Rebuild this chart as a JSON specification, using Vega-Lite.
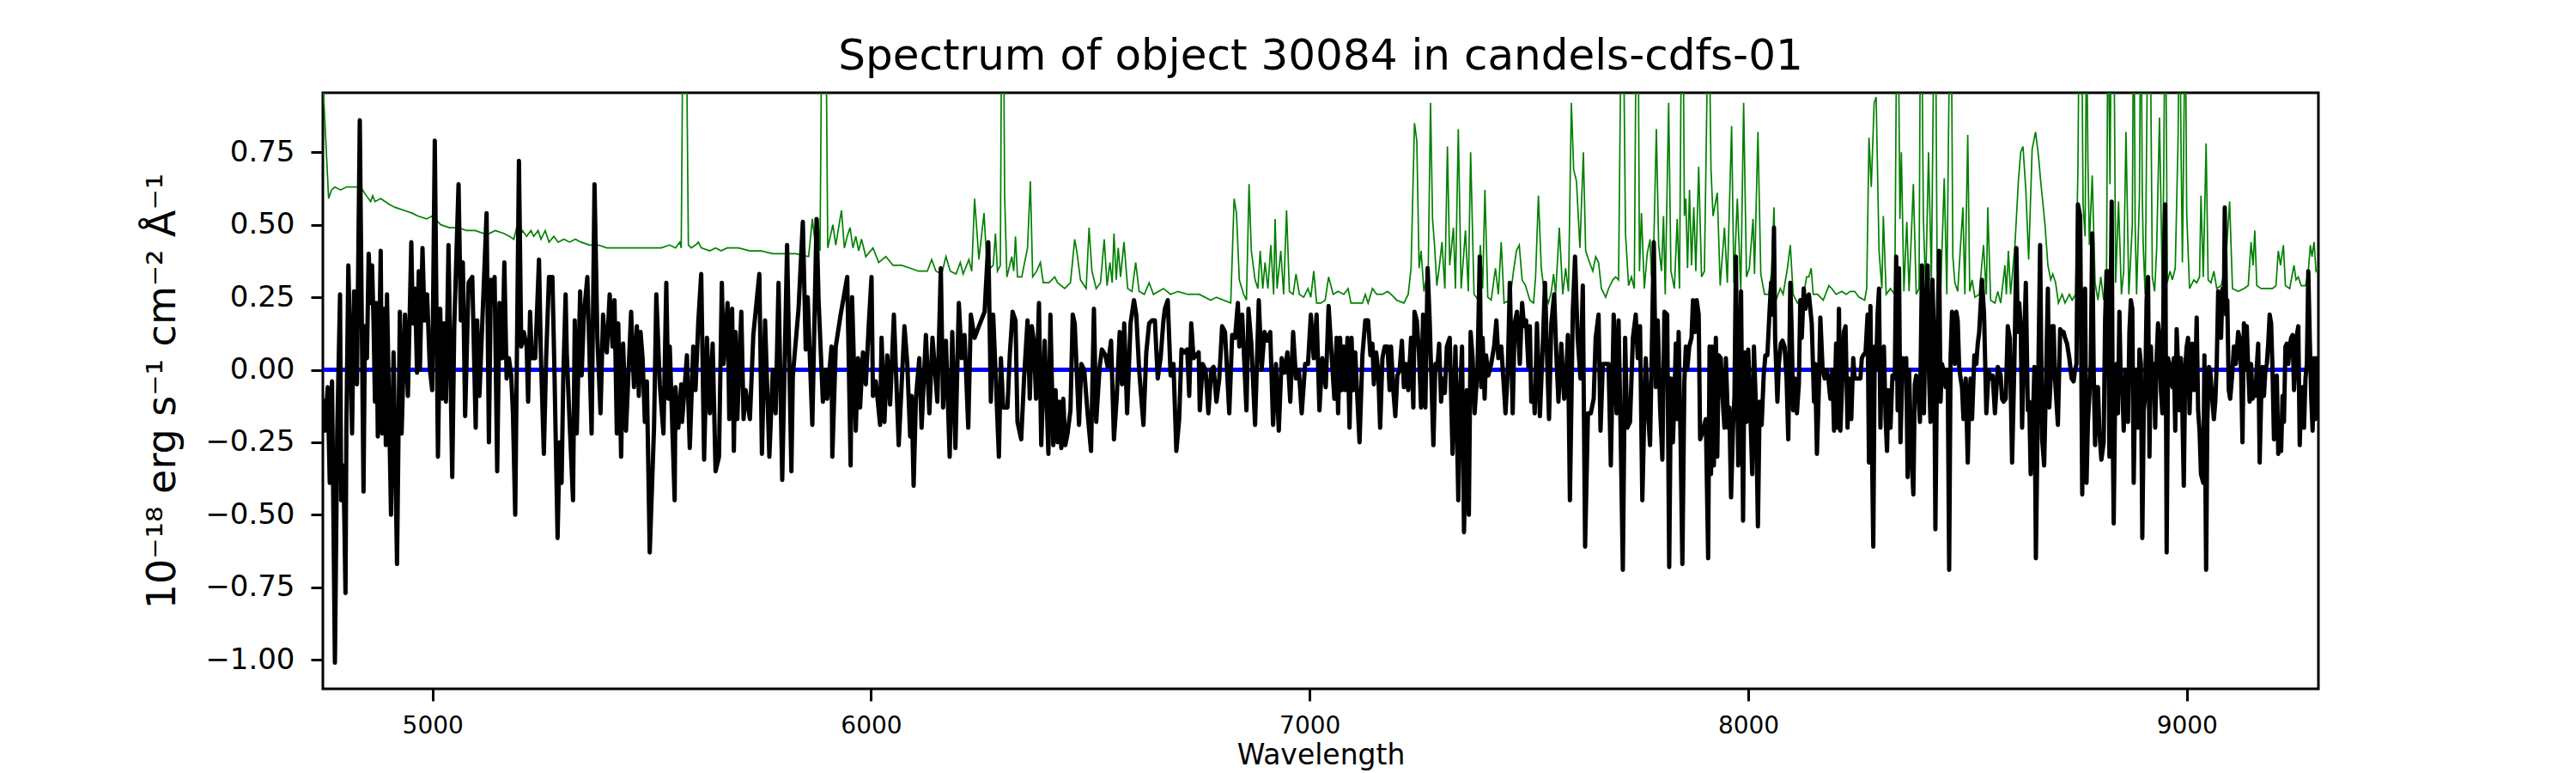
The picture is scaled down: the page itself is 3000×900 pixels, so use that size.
{
  "$schema": "https://vega.github.io/schema/vega-lite/v6.json",
  "width": 2324,
  "height": 694,
  "autosize": {"type": "none"},
  "padding": {"left": 376, "top": 108, "right": 300, "bottom": 98},
  "background": "white",
  "title": {
    "text": "Spectrum of object 30084 in candels-cdfs-01",
    "font": "DejaVu Sans",
    "fontSize": 50,
    "fontWeight": "normal",
    "color": "black",
    "anchor": "middle",
    "frame": "group",
    "baseline": "alphabetic",
    "offset": -23
  },
  "config": {
    "font": "DejaVu Sans",
    "view": {"stroke": "black", "strokeWidth": 3},
    "axis": {
      "labelFont": "DejaVu Sans",
      "titleFont": "DejaVu Sans",
      "labelColor": "black",
      "titleColor": "black",
      "tickColor": "black",
      "tickWidth": 3,
      "tickSize": 14,
      "domain": false,
      "grid": false,
      "titleFontWeight": "normal",
      "labelFlush": false
    }
  },
  "datasets": {
    "err": [
      {"w":4750.0,"v":1.00},{"w":4763.1,"v":0.59},{"w":4769.6,"v":0.62},{"w":4777.5,"v":0.63},{"w":4790.5,"v":0.62},{"w":4803.6,"v":0.63},{"w":4819.9,"v":0.63},{"w":4836.2,"v":0.63},{"w":4849.2,"v":0.60},{"w":4859.0,"v":0.58},{"w":4863.6,"v":0.60},{"w":4868.8,"v":0.58},{"w":4881.9,"v":0.59},{"w":4901.5,"v":0.57},{"w":4914.5,"v":0.56},{"w":4934.1,"v":0.55},{"w":4953.7,"v":0.54},{"w":4966.7,"v":0.53},{"w":4986.3,"v":0.52},{"w":4999.3,"v":0.53},{"w":5018.9,"v":0.50},{"w":5038.5,"v":0.49},{"w":5058.1,"v":0.49},{"w":5077.7,"v":0.48},{"w":5097.2,"v":0.48},{"w":5116.8,"v":0.47},{"w":5129.9,"v":0.47},{"w":5142.9,"v":0.48},{"w":5162.5,"v":0.47},{"w":5175.5,"v":0.46},{"w":5185.3,"v":0.45},{"w":5191.9,"v":0.49},{"w":5198.4,"v":0.46},{"w":5204.9,"v":0.48},{"w":5214.7,"v":0.46},{"w":5224.5,"v":0.48},{"w":5231.0,"v":0.46},{"w":5240.8,"v":0.48},{"w":5247.3,"v":0.45},{"w":5257.1,"v":0.48},{"w":5265.6,"v":0.44},{"w":5276.7,"v":0.46},{"w":5286.5,"v":0.44},{"w":5299.5,"v":0.45},{"w":5312.6,"v":0.44},{"w":5325.6,"v":0.45},{"w":5338.7,"v":0.44},{"w":5358.3,"v":0.43},{"w":5377.8,"v":0.43},{"w":5397.4,"v":0.42},{"w":5423.5,"v":0.42},{"w":5456.2,"v":0.42},{"w":5475.7,"v":0.42},{"w":5495.3,"v":0.42},
      {"w":5521.4,"v":0.42},{"w":5541.0,"v":0.43},{"w":5554.0,"v":0.42},{"w":5563.8,"v":0.44},{"w":5567.1,"v":0.42},{"w":5571.0,"v":1.2},{"w":5574.9,"v":1.5},{"w":5578.8,"v":1.2},{"w":5583.4,"v":0.43},{"w":5589.9,"v":0.42},{"w":5599.7,"v":0.43},{"w":5606.2,"v":0.44},{"w":5612.7,"v":0.42},{"w":5632.3,"v":0.41},{"w":5645.4,"v":0.42},{"w":5658.4,"v":0.41},{"w":5671.5,"v":0.42},{"w":5697.6,"v":0.42},{"w":5723.7,"v":0.41},{"w":5749.8,"v":0.41},{"w":5775.9,"v":0.40},{"w":5802.0,"v":0.40},{"w":5828.1,"v":0.40},{"w":5857.5,"v":0.39},{"w":5866.0,"v":0.52},{"w":5873.8,"v":0.42},{"w":5879.0,"v":0.52},{"w":5883.6,"v":0.41},{"w":5888.1,"v":1.3},{"w":5892.1,"v":1.6},{"w":5896.6,"v":1.3},{"w":5901.2,"v":0.42},{"w":5912.9,"v":0.50},{"w":5919.5,"v":0.43},{"w":5932.5,"v":0.55},{"w":5939.1,"v":0.42},{"w":5945.6,"v":0.46},{"w":5952.1,"v":0.49},{"w":5958.6,"v":0.42},{"w":5965.1,"v":0.46},{"w":5971.7,"v":0.41},{"w":5978.2,"v":0.45},{"w":5988.0,"v":0.39},{"w":6004.3,"v":0.42},{"w":6017.4,"v":0.37},{"w":6033.7,"v":0.39},{"w":6050.0,"v":0.36},{"w":6069.6,"v":0.36},{"w":6089.1,"v":0.35},{"w":6108.7,"v":0.34},{"w":6128.3,"v":0.34},{"w":6138.1,"v":0.38},{"w":6147.9,"v":0.34},{"w":6160.9,"v":0.33},{"w":6170.7,"v":0.39},{"w":6180.5,"v":0.34},{"w":6193.6,"v":0.33},{"w":6203.4,"v":0.37},{"w":6209.9,"v":0.33},{"w":6222.9,"v":0.38},{"w":6229.5,"v":0.34},{"w":6236.0,"v":0.59},{"w":6245.8,"v":0.38},{"w":6257.5,"v":0.54},{"w":6265.3,"v":0.33},
      {"w":6271.8,"v":0.35},{"w":6278.4,"v":0.36},{"w":6283.6,"v":0.47},{"w":6288.1,"v":0.34},{"w":6294.7,"v":0.36},{"w":6297.9,"v":1.3},{"w":6301.2,"v":1.4},{"w":6304.5,"v":0.60},{"w":6309.7,"v":0.32},{"w":6320.8,"v":0.39},{"w":6325.3,"v":0.34},{"w":6329.3,"v":0.46},{"w":6333.8,"v":0.32},{"w":6343.6,"v":0.32},{"w":6348.8,"v":0.36},{"w":6356.7,"v":0.42},{"w":6363.2,"v":0.65},{"w":6368.4,"v":0.32},{"w":6377.5,"v":0.34},{"w":6386.0,"v":0.37},{"w":6392.6,"v":0.30},{"w":6405.6,"v":0.30},{"w":6418.7,"v":0.32},{"w":6425.2,"v":0.30},{"w":6441.5,"v":0.28},{"w":6454.6,"v":0.30},{"w":6464.3,"v":0.45},{"w":6468.9,"v":0.41},{"w":6477.4,"v":0.31},{"w":6490.4,"v":0.28},{"w":6497.0,"v":0.49},{"w":6503.5,"v":0.34},{"w":6513.3,"v":0.28},{"w":6523.1,"v":0.30},{"w":6531.6,"v":0.45},{"w":6538.1,"v":0.29},{"w":6544.6,"v":0.37},{"w":6549.8,"v":0.30},{"w":6553.8,"v":0.47},{"w":6559.0,"v":0.31},{"w":6563.5,"v":0.42},{"w":6568.8,"v":0.32},{"w":6576.6,"v":0.44},{"w":6585.1,"v":0.28},{"w":6594.9,"v":0.27},{"w":6603.3,"v":0.37},{"w":6611.2,"v":0.27},{"w":6622.9,"v":0.26},{"w":6634.0,"v":0.30},{"w":6643.8,"v":0.26},{"w":6666.6,"v":0.28},{"w":6683.0,"v":0.26},{"w":6699.3,"v":0.27},{"w":6722.1,"v":0.26},{"w":6748.2,"v":0.26},{"w":6774.3,"v":0.24},{"w":6787.4,"v":0.25},{"w":6820.0,"v":0.23},{"w":6827.8,"v":0.59},{"w":6833.1,"v":0.54},{"w":6839.6,"v":0.31},{"w":6849.4,"v":0.26},{"w":6855.9,"v":0.24},{"w":6861.8,"v":0.64},{"w":6867.0,"v":0.41},{"w":6875.5,"v":0.31},{"w":6882.0,"v":0.28},{"w":6887.2,"v":0.41},{"w":6893.1,"v":0.28},{"w":6898.3,"v":0.37},{"w":6904.8,"v":0.28},{"w":6911.4,"v":0.43},{"w":6917.9,"v":0.26},{"w":6921.2,"v":0.52},{"w":6925.7,"v":0.28},{"w":6934.2,"v":0.41},{"w":6940.7,"v":0.26},{"w":6947.3,"v":0.55},{"w":6953.8,"v":0.27},{"w":6962.3,"v":0.26},{"w":6968.8,"v":0.33},{"w":6976.6,"v":0.26},{"w":6986.4,"v":0.25},{"w":6996.2,"v":0.28},{"w":7002.7,"v":0.25},{"w":7009.3,"v":0.34},{"w":7015.8,"v":0.23},{"w":7025.6,"v":0.23},{"w":7035.4,"v":0.24},{"w":7043.2,"v":0.32},
      {"w":7053.7,"v":0.26},{"w":7064.8,"v":0.27},{"w":7077.8,"v":0.26},{"w":7087.6,"v":0.28},{"w":7094.2,"v":0.23},{"w":7107.2,"v":0.23},{"w":7120.3,"v":0.23},{"w":7126.8,"v":0.26},{"w":7133.3,"v":0.23},{"w":7143.1,"v":0.28},{"w":7152.9,"v":0.26},{"w":7165.9,"v":0.26},{"w":7177.7,"v":0.27},{"w":7185.5,"v":0.26},{"w":7198.6,"v":0.24},{"w":7214.9,"v":0.23},{"w":7224.7,"v":0.26},{"w":7231.2,"v":0.35},{"w":7239.0,"v":0.85},{"w":7244.3,"v":0.79},{"w":7249.5,"v":0.35},{"w":7254.0,"v":0.41},{"w":7260.6,"v":0.27},{"w":7270.4,"v":0.35},{"w":7275.6,"v":0.92},{"w":7280.2,"v":0.52},{"w":7284.7,"v":0.43},{"w":7290.0,"v":0.29},{"w":7295.2,"v":0.35},{"w":7301.7,"v":0.44},{"w":7308.2,"v":0.28},{"w":7314.1,"v":0.77},{"w":7319.3,"v":0.36},{"w":7327.8,"v":0.49},{"w":7332.4,"v":0.28},{"w":7338.9,"v":0.83},{"w":7345.4,"v":0.28},{"w":7355.2,"v":0.48},{"w":7361.7,"v":0.27},{"w":7367.0,"v":0.75},{"w":7374.8,"v":0.26},{"w":7384.6,"v":0.24},{"w":7389.1,"v":0.43},{"w":7394.4,"v":0.28},{"w":7399.6,"v":0.62},{"w":7406.1,"v":0.25},{"w":7413.9,"v":0.24},{"w":7423.7,"v":0.35},{"w":7430.2,"v":0.26},{"w":7436.8,"v":0.44},{"w":7443.3,"v":0.23},{"w":7456.4,"v":0.24},{"w":7464.8,"v":0.34},{"w":7471.4,"v":0.41},{"w":7477.9,"v":0.43},{"w":7484.4,"v":0.31},{"w":7492.2,"v":0.29},{"w":7502.0,"v":0.24},{"w":7510.5,"v":0.23},{"w":7515.1,"v":0.32},{"w":7521.6,"v":0.60},{"w":7528.1,"v":0.35},{"w":7534.7,"v":0.27},{"w":7544.5,"v":0.23},{"w":7551.0,"v":0.27},{"w":7556.2,"v":0.33},{"w":7560.8,"v":0.26},{"w":7569.2,"v":0.49},{"w":7577.1,"v":0.26},{"w":7583.6,"v":0.35},{"w":7590.1,"v":0.27},{"w":7596.7,"v":0.92},{"w":7601.9,"v":0.69},{"w":7608.4,"v":0.65},{"w":7616.2,"v":0.42},{"w":7624.1,"v":0.75},{"w":7629.3,"v":0.41},{"w":7635.8,"v":0.38},{"w":7645.6,"v":0.34},{"w":7652.1,"v":0.39},{"w":7658.7,"v":0.37},{"w":7665.2,"v":0.28},{"w":7675.0,"v":0.25},{"w":7681.5,"v":0.28},{"w":7691.3,"v":0.31},{"w":7697.8,"v":0.32},{"w":7704.3,"v":0.31},{"w":7710.2,"v":1.2},{"w":7712.9,"v":1.6},{"w":7715.4,"v":1.2},{"w":7720.1,"v":0.47},{"w":7727.2,"v":0.29},{"w":7733.7,"v":0.32},{"w":7740.2,"v":0.28},{"w":7744.8,"v":1.3},{"w":7746.8,"v":1.5},{"w":7749.4,"v":1.1},{"w":7752.0,"v":0.34},{"w":7756.5,"v":0.54},{"w":7763.1,"v":0.28},{"w":7769.6,"v":0.40},{"w":7776.1,"v":0.45},{"w":7779.4,"v":0.32},{"w":7784.6,"v":0.43},{"w":7790.5,"v":0.83},{"w":7795.7,"v":0.43},{"w":7802.2,"v":0.34},{"w":7806.8,"v":0.53},
      {"w":7810.7,"v":0.26},{"w":7818.5,"v":0.92},{"w":7823.7,"v":0.34},{"w":7831.6,"v":0.28},{"w":7838.1,"v":0.52},{"w":7843.3,"v":0.28},{"w":7847.2,"v":1.1},{"w":7849.8,"v":1.4},{"w":7852.4,"v":1.0},{"w":7854.4,"v":0.53},{"w":7857.7,"v":0.59},{"w":7861.6,"v":0.35},{"w":7866.1,"v":0.62},{"w":7870.7,"v":0.36},{"w":7875.9,"v":0.56},{"w":7880.5,"v":0.34},{"w":7887.0,"v":0.70},{"w":7893.6,"v":0.32},{"w":7900.1,"v":0.34},{"w":7907.3,"v":1.1},{"w":7909.9,"v":1.4},{"w":7912.5,"v":1.0},{"w":7915.1,"v":0.69},{"w":7919.7,"v":0.53},{"w":7929.4,"v":0.61},{"w":7936.0,"v":0.29},{"w":7945.8,"v":0.49},{"w":7952.3,"v":0.30},{"w":7962.1,"v":0.84},{"w":7967.3,"v":0.30},{"w":7975.1,"v":0.59},{"w":7983.0,"v":0.27},{"w":7989.5,"v":0.92},{"w":7996.0,"v":0.32},{"w":8002.5,"v":0.35},{"w":8011.0,"v":0.52},{"w":8014.3,"v":0.33},{"w":8022.1,"v":0.82},{"w":8028.6,"v":0.33},{"w":8037.1,"v":0.26},{"w":8046.9,"v":0.26},{"w":8053.4,"v":0.34},{"w":8058.7,"v":0.56},{"w":8063.2,"v":0.24},{"w":8073.0,"v":0.28},{"w":8079.5,"v":0.26},{"w":8089.3,"v":0.35},{"w":8095.9,"v":0.43},{"w":8102.4,"v":0.26},{"w":8112.2,"v":0.23},{"w":8125.2,"v":0.25},{"w":8133.1,"v":0.32},{"w":8138.3,"v":0.32},{"w":8143.5,"v":0.35},{"w":8148.1,"v":0.26},{"w":8157.9,"v":0.26},{"w":8170.9,"v":0.24},{"w":8184.0,"v":0.29},{"w":8190.5,"v":0.28},{"w":8200.3,"v":0.26},{"w":8213.3,"v":0.27},{"w":8223.1,"v":0.26},{"w":8232.9,"v":0.27},{"w":8242.7,"v":0.27},{"w":8252.5,"v":0.25},{"w":8265.5,"v":0.24},{"w":8270.1,"v":0.28},{"w":8275.3,"v":0.80},{"w":8280.5,"v":0.63},{"w":8287.1,"v":0.92},{"w":8291.6,"v":0.94},{"w":8298.2,"v":0.41},{"w":8304.7,"v":0.28},{"w":8308.0,"v":0.53},{"w":8314.5,"v":0.26},{"w":8324.3,"v":0.28},{"w":8334.1,"v":0.26},{"w":8338.0,"v":1.1},{"w":8340.6,"v":1.4},{"w":8343.2,"v":1.0},{"w":8345.8,"v":0.52},{"w":8349.1,"v":0.75},{"w":8354.9,"v":0.27},{"w":8361.5,"v":0.51},{"w":8366.7,"v":0.27},{"w":8376.5,"v":0.64},{"w":8383.0,"v":0.26},{"w":8389.5,"v":0.28},{"w":8392.1,"v":1.1},{"w":8394.1,"v":1.4},{"w":8396.7,"v":1.0},{"w":8399.3,"v":0.52},{"w":8404.5,"v":0.28},{"w":8411.1,"v":0.75},{"w":8417.6,"v":0.31},{"w":8422.8,"v":1.1},{"w":8425.4,"v":1.5},{"w":8428.0,"v":1.0},{"w":8430.6,"v":0.35},{"w":8438.5,"v":0.26},{"w":8446.9,"v":0.66},{"w":8452.8,"v":0.26},{"w":8458.7,"v":1.1},{"w":8461.3,"v":1.4},{"w":8463.9,"v":1.0},{"w":8466.5,"v":0.39},{"w":8471.1,"v":0.30},{"w":8477.6,"v":0.27},{"w":8489.4,"v":0.56},{"w":8493.9,"v":0.26},{"w":8500.5,"v":0.81},{"w":8505.0,"v":0.27},{"w":8510.3,"v":0.31},{"w":8516.8,"v":0.25},{"w":8526.6,"v":0.26},{"w":8536.4,"v":0.43},{"w":8542.9,"v":0.26},{"w":8546.1,"v":0.56},{"w":8552.7,"v":0.24},{"w":8562.5,"v":0.23},
      {"w":8569.0,"v":0.27},{"w":8575.5,"v":0.23},{"w":8585.3,"v":0.36},{"w":8588.5,"v":0.26},{"w":8593.1,"v":0.41},{"w":8598.3,"v":0.26},{"w":8602.9,"v":0.34},{"w":8608.1,"v":0.43},{"w":8615.9,"v":0.65},{"w":8621.2,"v":0.75},{"w":8626.4,"v":0.77},{"w":8632.9,"v":0.62},{"w":8639.4,"v":0.38},{"w":8647.3,"v":0.76},{"w":8655.1,"v":0.82},{"w":8661.6,"v":0.74},{"w":8666.8,"v":0.65},{"w":8672.1,"v":0.57},{"w":8676.6,"v":0.50},{"w":8683.2,"v":0.36},{"w":8689.7,"v":0.31},{"w":8694.3,"v":0.33},{"w":8700.8,"v":0.30},{"w":8707.3,"v":0.23},{"w":8715.8,"v":0.26},{"w":8722.3,"v":0.23},{"w":8732.1,"v":0.26},{"w":8738.6,"v":0.24},{"w":8746.5,"v":0.26},{"w":8751.7,"v":0.69},{"w":8754.9,"v":1.3},{"w":8759.5,"v":1.4},{"w":8763.4,"v":0.57},{"w":8768.0,"v":0.46},{"w":8771.3,"v":1.2},{"w":8774.5,"v":0.72},{"w":8777.8,"v":0.43},{"w":8784.3,"v":0.67},{"w":8790.8,"v":0.30},{"w":8797.4,"v":0.24},{"w":8803.9,"v":0.32},{"w":8810.4,"v":0.24},{"w":8817.0,"v":0.34},{"w":8820.2,"v":1.3},{"w":8824.8,"v":0.64},{"w":8828.7,"v":1.4},{"w":8833.3,"v":1.3},{"w":8837.8,"v":0.30},{"w":8844.3,"v":0.58},{"w":8850.9,"v":0.26},{"w":8856.1,"v":0.34},{"w":8861.3,"v":0.82},{"w":8867.8,"v":0.26},{"w":8875.7,"v":0.50},{"w":8879.0,"v":1.4},{"w":8882.2,"v":0.50},{"w":8885.5,"v":0.26},{"w":8892.0,"v":0.60},{"w":8895.3,"v":1.4},{"w":8898.5,"v":0.60},{"w":8900.5,"v":0.43},{"w":8905.0,"v":0.26},{"w":8911.6,"v":1.3},{"w":8916.1,"v":1.3},{"w":8921.4,"v":0.32},{"w":8926.6,"v":0.27},{"w":8931.1,"v":0.41},{"w":8937.7,"v":0.87},{"w":8944.2,"v":0.27},{"w":8947.5,"v":0.70},{"w":8950.7,"v":1.4},{"w":8954.0,"v":0.70},{"w":8955.3,"v":0.30},{"w":8961.8,"v":0.34},{"w":8967.0,"v":0.31},{"w":8973.6,"v":0.35},{"w":8980.1,"v":0.80},{"w":8983.3,"v":1.4},{"w":8986.6,"v":0.80},{"w":8989.9,"v":0.37},{"w":8993.1,"v":0.80},{"w":8996.4,"v":1.3},{"w":8999.7,"v":0.54},{"w":9006.2,"v":0.28},{"w":9016.0,"v":0.31},{"w":9022.5,"v":0.30},{"w":9029.0,"v":0.32},{"w":9032.3,"v":0.60},{"w":9037.5,"v":0.32},{"w":9044.0,"v":0.78},{"w":9048.6,"v":0.31},{"w":9055.1,"v":0.30},{"w":9061.7,"v":0.34},{"w":9068.2,"v":0.28},{"w":9078.0,"v":0.29},{"w":9087.8,"v":0.35},{"w":9097.6,"v":0.58},{"w":9104.1,"v":0.28},{"w":9117.1,"v":0.27},{"w":9130.2,"v":0.28},{"w":9140.0,"v":0.29},{"w":9146.5,"v":0.44},{"w":9151.1,"v":0.36},{"w":9155.0,"v":0.48},{"w":9159.5,"v":0.29},{"w":9169.3,"v":0.28},{"w":9182.4,"v":0.28},{"w":9195.4,"v":0.28},{"w":9203.3,"v":0.29},{"w":9208.5,"v":0.41},{"w":9213.7,"v":0.36},{"w":9220.2,"v":0.43},{"w":9224.8,"v":0.29},{"w":9234.6,"v":0.28},{"w":9244.4,"v":0.36},{"w":9249.0,"v":0.31},{"w":9254.2,"v":0.32},{"w":9260.7,"v":0.29},{"w":9270.5,"v":0.29},{"w":9277.0,"v":0.34},{"w":9281.6,"v":0.43},{"w":9285.5,"v":0.39},{"w":9290.1,"v":0.44},{"w":9294.6,"v":0.34},{"w":9300.0,"v":0.35}
    ],
    "flux": [
      {"w":4750.0,"v":-0.10},{"w":4754.6,"v":-0.21},{"w":4761.1,"v":-0.06},{"w":4765.7,"v":-0.39},{"w":4770.9,"v":-0.04},{"w":4777.5,"v":-1.01},{"w":4782.7,"v":-0.22},{"w":4789.2,"v":0.26},{"w":4791.8,"v":-0.45},{"w":4797.0,"v":-0.33},{"w":4801.6,"v":-0.77},{"w":4803.6,"v":-0.21},{"w":4808.1,"v":0.36},{"w":4816.6,"v":-0.22},{"w":4821.2,"v":0.27},{"w":4827.7,"v":-0.05},{"w":4834.2,"v":0.86},{"w":4842.7,"v":-0.42},{"w":4846.0,"v":0.15},{"w":4850.5,"v":0.04},{"w":4854.5,"v":0.40},{"w":4859.0,"v":0.23},{"w":4862.3,"v":0.36},{"w":4865.6,"v":0.16},{"w":4868.8,"v":-0.11},{"w":4872.1,"v":0.23},{"w":4875.3,"v":-0.23},{"w":4881.9,"v":0.41},{"w":4885.1,"v":-0.22},{"w":4889.7,"v":0.21},{"w":4893.6,"v":-0.26},{"w":4896.2,"v":0.26},{"w":4905.4,"v":-0.50},{"w":4911.2,"v":0.06},{"w":4919.1,"v":-0.67},{"w":4925.6,"v":0.20},{"w":4929.5,"v":-0.22},{"w":4937.3,"v":0.19},{"w":4943.9,"v":-0.09},{"w":4951.7,"v":0.44},{"w":4955.0,"v":0.16},{"w":4960.2,"v":0.28},{"w":4964.7,"v":-0.01},{"w":4968.7,"v":0.34},{"w":4971.3,"v":0.00},{"w":4977.2,"v":0.42},{"w":4981.7,"v":0.17},{"w":4987.6,"v":0.26},{"w":4994.1,"v":0.00},{"w":4999.3,"v":-0.07},{"w":5005.2,"v":0.79},{"w":5012.4,"v":-0.30},{"w":5017.6,"v":0.21},{"w":5022.2,"v":-0.10},{"w":5026.7,"v":0.16},{"w":5030.7,"v":-0.11},{"w":5036.5,"v":0.43},{"w":5045.0,"v":-0.37},{"w":5049.6,"v":0.15},{"w":5059.4,"v":0.64},{"w":5064.6,"v":0.17},{"w":5069.2,"v":0.37},{"w":5074.4,"v":-0.16},{"w":5082.2,"v":0.30},{"w":5090.7,"v":0.32},{"w":5098.5,"v":-0.20},{"w":5101.8,"v":0.17},{"w":5107.0,"v":-0.09},{"w":5123.3,"v":0.54},{"w":5128.6,"v":-0.25},{"w":5133.1,"v":0.31},{"w":5136.4,"v":0.23},{"w":5141.6,"v":0.32},{"w":5147.5,"v":-0.35},{"w":5152.7,"v":0.23},{"w":5159.2,"v":0.04},{"w":5163.8,"v":0.37},{"w":5169.0,"v":-0.03},{"w":5174.2,"v":0.04},{"w":5179.5,"v":-0.02},{"w":5183.4,"v":-0.15},{"w":5188.6,"v":-0.50},{"w":5197.1,"v":0.72},{"w":5202.3,"v":0.08},{"w":5208.2,"v":0.13},{"w":5214.7,"v":0.08},{"w":5218.0,"v":-0.11},{"w":5222.5,"v":0.20},{"w":5226.4,"v":0.04},{"w":5234.3,"v":0.04},{"w":5242.8,"v":0.38},{"w":5247.3,"v":0.04},{"w":5253.9,"v":-0.29},{"w":5259.1,"v":0.04},{"w":5265.6,"v":0.32},{"w":5273.4,"v":0.32},{"w":5278.0,"v":0.00},{"w":5285.2,"v":-0.58},{"w":5289.8,"v":-0.25},{"w":5294.3,"v":-0.39},{"w":5298.3,"v":-0.02},{"w":5303.5,"v":0.26},{"w":5306.1,"v":0.06},{"w":5312.6,"v":-0.18},{"w":5320.4,"v":-0.45},{"w":5324.3,"v":0.17},{"w":5328.9,"v":-0.22},{"w":5336.7,"v":0.27},{"w":5340.0,"v":-0.02},{"w":5345.2,"v":0.19},{"w":5353.1,"v":0.32},{"w":5362.8,"v":-0.22},{"w":5369.4,"v":0.64},{"w":5375.9,"v":0.11},{"w":5383.1,"v":-0.15},{"w":5388.9,"v":0.19},{"w":5392.9,"v":0.10},{"w":5397.4,"v":0.06},{"w":5404.0,"v":0.26},{"w":5410.5,"v":0.08},{"w":5415.0,"v":0.24},{"w":5420.3,"v":-0.22},{"w":5423.5,"v":0.16},{"w":5430.1,"v":-0.30},{"w":5434.6,"v":0.09},{"w":5441.2,"v":-0.21},{"w":5452.9,"v":0.20},{"w":5459.4,"v":-0.06},{"w":5466.0,"v":0.15},{"w":5470.5,"v":-0.09},{"w":5474.4,"v":0.13},{"w":5479.0,"v":0.04},{"w":5484.2,"v":-0.18},{"w":5488.8,"v":-0.04},{"w":5495.3,"v":-0.63},{"w":5505.1,"v":-0.20},{"w":5510.3,"v":0.26},{"w":5518.2,"v":-0.05},
      {"w":5526.6,"v":-0.22},{"w":5533.1,"v":0.30},{"w":5537.7,"v":-0.10},{"w":5541.0,"v":0.08},{"w":5552.1,"v":-0.45},{"w":5554.0,"v":-0.06},{"w":5560.5,"v":-0.20},{"w":5567.1,"v":-0.05},{"w":5569.0,"v":-0.18},{"w":5580.1,"v":0.05},{"w":5586.6,"v":-0.27},{"w":5594.5,"v":0.08},{"w":5599.7,"v":-0.07},{"w":5606.2,"v":0.17},{"w":5612.7,"v":0.33},{"w":5619.3,"v":-0.31},{"w":5625.8,"v":0.11},{"w":5632.3,"v":-0.15},{"w":5638.8,"v":0.09},{"w":5645.4,"v":-0.35},{"w":5653.2,"v":-0.30},{"w":5659.7,"v":0.30},{"w":5663.6,"v":0.02},{"w":5672.8,"v":0.23},{"w":5676.7,"v":-0.17},{"w":5683.2,"v":0.21},{"w":5687.1,"v":-0.28},{"w":5691.1,"v":0.13},{"w":5695.0,"v":-0.17},{"w":5704.1,"v":0.20},{"w":5709.3,"v":-0.17},{"w":5713.9,"v":-0.07},{"w":5723.7,"v":-0.17},{"w":5731.5,"v":0.12},{"w":5745.2,"v":0.33},{"w":5751.1,"v":-0.29},{"w":5758.3,"v":0.17},{"w":5768.1,"v":-0.30},{"w":5775.9,"v":0.00},{"w":5782.4,"v":-0.15},{"w":5789.0,"v":0.30},{"w":5797.4,"v":-0.38},{"w":5808.5,"v":0.43},{"w":5818.3,"v":-0.35},{"w":5821.6,"v":-0.02},{"w":5834.6,"v":0.21},{"w":5844.4,"v":0.51},{"w":5851.0,"v":0.07},{"w":5855.5,"v":0.25},{"w":5866.0,"v":-0.19},{"w":5875.7,"v":0.52},{"w":5880.3,"v":0.24},{"w":5890.1,"v":-0.11},{"w":5896.6,"v":0.00},{"w":5899.9,"v":-0.10},{"w":5909.7,"v":0.08},{"w":5911.6,"v":-0.30},{"w":5919.5,"v":0.08},{"w":5930.6,"v":0.19},{"w":5945.6,"v":0.32},{"w":5953.4,"v":-0.33},{"w":5956.7,"v":0.25},{"w":5965.1,"v":-0.21},{"w":5970.4,"v":0.04},{"w":5974.9,"v":-0.13},{"w":5981.5,"v":0.06},{"w":5988.0,"v":-0.05},{"w":5994.5,"v":0.15},{"w":6001.0,"v":0.32},{"w":6004.3,"v":-0.09},{"w":6010.8,"v":-0.04},{"w":6020.6,"v":-0.19},{"w":6023.9,"v":0.11},{"w":6030.4,"v":-0.18},{"w":6036.9,"v":0.05},{"w":6043.4,"v":-0.12},{"w":6052.0,"v":0.19},{"w":6063.0,"v":-0.26},{"w":6076.1,"v":0.15},{"w":6082.6,"v":0.02},{"w":6089.1,"v":-0.23},{"w":6092.4,"v":-0.09},{"w":6097.0,"v":-0.40},{"w":6102.2,"v":-0.10},{"w":6110.0,"v":0.04},{"w":6115.2,"v":-0.20},{"w":6125.0,"v":0.12},{"w":6132.9,"v":-0.15},{"w":6140.0,"v":0.11},{"w":6151.1,"v":-0.11},{"w":6159.0,"v":0.35},{"w":6164.2,"v":-0.13},{"w":6170.7,"v":0.10},{"w":6179.2,"v":-0.30},{"w":6185.1,"v":0.13},{"w":6192.3,"v":-0.27},{"w":6200.1,"v":0.23},{"w":6206.6,"v":0.04},{"w":6213.1,"v":0.12},{"w":6221.6,"v":-0.20},{"w":6227.5,"v":0.19},{"w":6236.0,"v":0.11},{"w":6245.8,"v":0.15},{"w":6258.8,"v":0.20},{"w":6267.3,"v":0.44},
      {"w":6273.1,"v":-0.11},{"w":6278.4,"v":0.19},{"w":6283.6,"v":0.00},{"w":6291.4,"v":-0.30},{"w":6296.0,"v":0.04},{"w":6301.2,"v":-0.13},{"w":6311.0,"v":-0.13},{"w":6316.2,"v":0.05},{"w":6322.7,"v":0.20},{"w":6329.3,"v":0.17},{"w":6333.8,"v":-0.18},{"w":6342.3,"v":-0.24},{"w":6348.8,"v":-0.03},{"w":6356.7,"v":0.17},{"w":6361.9,"v":-0.10},{"w":6366.5,"v":0.15},{"w":6371.0,"v":0.10},{"w":6376.2,"v":-0.10},{"w":6382.8,"v":0.23},{"w":6388.0,"v":-0.26},{"w":6395.8,"v":0.10},{"w":6404.3,"v":-0.29},{"w":6408.9,"v":0.19},{"w":6415.4,"v":-0.26},{"w":6420.6,"v":-0.07},{"w":6425.2,"v":-0.25},{"w":6429.8,"v":-0.11},{"w":6433.7,"v":-0.27},{"w":6438.2,"v":-0.10},{"w":6442.8,"v":-0.26},{"w":6448.0,"v":-0.22},{"w":6454.6,"v":-0.14},{"w":6459.8,"v":0.19},{"w":6464.3,"v":0.16},{"w":6469.6,"v":-0.03},{"w":6474.1,"v":-0.19},{"w":6479.4,"v":0.02},{"w":6485.9,"v":0.00},{"w":6493.7,"v":-0.15},{"w":6501.5,"v":-0.28},{"w":6508.1,"v":0.21},{"w":6513.3,"v":-0.18},{"w":6521.1,"v":0.01},{"w":6526.3,"v":0.07},{"w":6534.2,"v":0.05},{"w":6539.4,"v":0.01},{"w":6547.2,"v":0.10},{"w":6553.8,"v":-0.24},{"w":6560.3,"v":-0.09},{"w":6566.8,"v":0.13},{"w":6572.0,"v":-0.05},{"w":6577.2,"v":0.16},{"w":6583.8,"v":-0.15},{"w":6591.6,"v":0.16},{"w":6599.4,"v":0.24},{"w":6604.7,"v":0.19},{"w":6611.2,"v":0.00},{"w":6621.0,"v":-0.19},{"w":6627.5,"v":0.06},{"w":6634.0,"v":0.16},{"w":6640.5,"v":0.17},{"w":6647.1,"v":0.17},{"w":6653.6,"v":-0.03},{"w":6660.1,"v":0.04},{"w":6666.6,"v":0.17},{"w":6669.9,"v":0.21},{"w":6676.4,"v":0.24},{"w":6683.0,"v":-0.02},{"w":6689.5,"v":0.02},{"w":6696.0,"v":-0.28},{"w":6702.5,"v":-0.17},{"w":6707.8,"v":0.07},{"w":6714.3,"v":0.06},{"w":6720.8,"v":0.07},{"w":6725.4,"v":-0.09},{"w":6730.0,"v":0.16},{"w":6735.2,"v":0.04},{"w":6746.9,"v":0.06},{"w":6749.5,"v":-0.14},{"w":6756.1,"v":0.02},{"w":6762.6,"v":0.00},{"w":6769.1,"v":-0.15},{"w":6775.6,"v":0.00},{"w":6780.9,"v":0.01},{"w":6787.4,"v":-0.11},{"w":6793.9,"v":-0.03},{"w":6800.4,"v":0.15},{"w":6807.0,"v":0.13},{"w":6816.7,"v":-0.15},{"w":6823.3,"v":0.12},{"w":6829.8,"v":0.11},{"w":6836.3,"v":0.23},{"w":6839.6,"v":0.08},{"w":6846.1,"v":0.19},{"w":6855.9,"v":-0.14},{"w":6860.5,"v":0.21},{"w":6867.0,"v":0.09},{"w":6875.5,"v":-0.19},{"w":6884.0,"v":0.24},{"w":6890.5,"v":0.00},{"w":6897.0,"v":0.13},{"w":6903.5,"v":0.10},{"w":6910.1,"v":0.13},{"w":6916.6,"v":-0.19},{"w":6923.1,"v":0.02},{"w":6929.6,"v":-0.21},{"w":6936.2,"v":0.04},{"w":6942.7,"v":-0.01},{"w":6949.2,"v":0.06},{"w":6955.8,"v":-0.11},{"w":6962.3,"v":0.13},{"w":6968.8,"v":-0.03},{"w":6975.3,"v":0.00},{"w":6981.9,"v":-0.15},{"w":6989.7,"v":0.02},{"w":6996.2,"v":0.02},{"w":7002.7,"v":0.19},{"w":7009.3,"v":0.04},{"w":7015.8,"v":0.19},{"w":7022.3,"v":-0.14},{"w":7028.8,"v":0.04},{"w":7036.7,"v":-0.06},{"w":7043.2,"v":0.22},
      {"w":7051.7,"v":0.01},{"w":7056.3,"v":-0.10},{"w":7061.5,"v":0.11},{"w":7064.8,"v":-0.15},{"w":7069.4,"v":0.11},{"w":7073.3,"v":-0.07},{"w":7077.8,"v":0.08},{"w":7081.1,"v":-0.07},{"w":7086.3,"v":0.11},{"w":7090.9,"v":-0.20},{"w":7095.5,"v":0.11},{"w":7099.4,"v":-0.07},{"w":7103.9,"v":0.06},{"w":7108.5,"v":-0.09},{"w":7113.7,"v":-0.25},{"w":7120.3,"v":0.05},{"w":7126.8,"v":0.17},{"w":7133.3,"v":0.17},{"w":7138.5,"v":0.05},{"w":7143.1,"v":0.09},{"w":7146.4,"v":-0.05},{"w":7151.6,"v":0.06},{"w":7156.2,"v":0.00},{"w":7160.7,"v":-0.20},{"w":7165.9,"v":0.04},{"w":7171.2,"v":0.08},{"w":7177.7,"v":0.08},{"w":7182.3,"v":-0.07},{"w":7185.5,"v":0.08},{"w":7190.7,"v":-0.07},{"w":7195.3,"v":-0.16},{"w":7199.9,"v":-0.02},{"w":7205.1,"v":0.00},{"w":7210.3,"v":0.10},{"w":7214.9,"v":-0.06},{"w":7219.5,"v":0.02},{"w":7224.7,"v":-0.07},{"w":7231.2,"v":0.11},{"w":7236.4,"v":-0.13},{"w":7239.0,"v":0.20},{"w":7244.3,"v":0.17},{"w":7249.5,"v":0.05},{"w":7254.0,"v":-0.13},{"w":7258.6,"v":0.19},{"w":7263.8,"v":-0.13},{"w":7269.0,"v":0.35},{"w":7273.6,"v":0.17},{"w":7276.9,"v":0.00},{"w":7282.1,"v":-0.26},{"w":7286.7,"v":0.02},{"w":7291.2,"v":0.01},{"w":7295.2,"v":0.09},{"w":7299.7,"v":-0.11},{"w":7303.0,"v":-0.03},{"w":7308.2,"v":-0.08},{"w":7312.8,"v":0.08},{"w":7319.3,"v":0.11},{"w":7325.8,"v":-0.29},{"w":7332.4,"v":0.08},{"w":7338.9,"v":-0.45},{"w":7342.2,"v":-0.11},{"w":7347.4,"v":0.08},{"w":7351.9,"v":-0.56},{"w":7358.5,"v":-0.07},{"w":7363.0,"v":-0.50},{"w":7367.0,"v":0.13},{"w":7371.5,"v":0.04},{"w":7376.1,"v":-0.15},{"w":7382.6,"v":0.00},{"w":7387.8,"v":0.39},{"w":7391.1,"v":-0.06},{"w":7394.4,"v":0.11},{"w":7398.9,"v":-0.10},{"w":7402.2,"v":0.05},{"w":7407.4,"v":-0.02},{"w":7413.9,"v":0.02},{"w":7420.5,"v":0.08},{"w":7425.7,"v":0.17},{"w":7430.2,"v":0.04},{"w":7436.8,"v":0.08},{"w":7443.3,"v":-0.07},{"w":7446.5,"v":-0.15},{"w":7451.8,"v":0.00},{"w":7456.4,"v":0.30},{"w":7462.9,"v":-0.15},{"w":7467.4,"v":0.16},{"w":7472.7,"v":0.20},{"w":7479.2,"v":0.02},{"w":7484.4,"v":0.23},{"w":7489.0,"v":0.15},{"w":7493.5,"v":0.17},{"w":7498.8,"v":0.01},{"w":7502.0,"v":0.15},{"w":7505.3,"v":-0.11},{"w":7510.5,"v":-0.06},{"w":7513.1,"v":-0.15},{"w":7518.3,"v":0.16},{"w":7524.9,"v":-0.16},{"w":7531.4,"v":0.08},{"w":7536.6,"v":0.30},{"w":7541.2,"v":0.05},{"w":7545.8,"v":-0.17},{"w":7551.0,"v":0.16},{"w":7557.5,"v":0.26},{"w":7562.7,"v":0.04},{"w":7567.3,"v":-0.11},{"w":7573.8,"v":0.09},{"w":7580.3,"v":-0.10},{"w":7584.9,"v":-0.03},{"w":7588.8,"v":0.12},{"w":7593.4,"v":-0.45},{"w":7599.9,"v":0.20},{"w":7605.1,"v":0.39},{"w":7611.0,"v":0.11},{"w":7617.5,"v":-0.03},{"w":7622.8,"v":0.29},{"w":7628.0,"v":-0.61},{"w":7634.5,"v":-0.15},{"w":7641.0,"v":-0.15},{"w":7647.6,"v":-0.10},{"w":7652.1,"v":0.11},{"w":7658.7,"v":0.19},{"w":7663.2,"v":-0.21},{"w":7668.4,"v":0.02},{"w":7675.0,"v":0.02},{"w":7681.5,"v":0.02},{"w":7686.7,"v":-0.33},{"w":7693.2,"v":0.19},{"w":7699.8,"v":-0.15},{"w":7704.3,"v":0.17},{"w":7708.9,"v":-0.20},{"w":7714.1,"v":-0.69},{"w":7719.3,"v":0.11},{"w":7723.9,"v":-0.20},{"w":7730.4,"v":-0.18},{"w":7737.0,"v":0.11},{"w":7743.5,"v":0.19},{"w":7748.1,"v":0.04},{"w":7753.3,"v":0.15},{"w":7758.5,"v":-0.45},{"w":7763.1,"v":-0.14},{"w":7766.3,"v":0.04},{"w":7771.6,"v":-0.15},{"w":7776.1,"v":-0.26},{"w":7784.6,"v":0.44},{"w":7789.2,"v":-0.06},{"w":7793.7,"v":0.17},{"w":7799.0,"v":-0.13},{"w":7804.2,"v":-0.31},{"w":7808.8,"v":0.20},
      {"w":7815.2,"v":0.19},{"w":7819.8,"v":-0.68},{"w":7823.7,"v":-0.03},{"w":7828.3,"v":-0.25},{"w":7832.9,"v":-0.03},{"w":7834.8,"v":0.09},{"w":7838.1,"v":-0.17},{"w":7841.3,"v":0.13},{"w":7845.9,"v":-0.26},{"w":7849.8,"v":-0.67},{"w":7854.4,"v":-0.04},{"w":7857.7,"v":0.08},{"w":7860.9,"v":0.00},{"w":7865.5,"v":0.08},{"w":7870.7,"v":0.11},{"w":7874.0,"v":0.24},{"w":7878.5,"v":0.13},{"w":7882.5,"v":0.24},{"w":7887.0,"v":0.19},{"w":7890.3,"v":-0.24},{"w":7896.8,"v":-0.21},{"w":7903.3,"v":-0.17},{"w":7908.6,"v":-0.65},{"w":7911.8,"v":0.08},{"w":7915.1,"v":-0.36},{"w":7917.7,"v":0.08},{"w":7921.6,"v":-0.33},{"w":7926.2,"v":0.11},{"w":7929.4,"v":-0.30},{"w":7932.7,"v":0.05},{"w":7937.3,"v":0.04},{"w":7941.2,"v":-0.09},{"w":7945.8,"v":-0.20},{"w":7949.0,"v":0.04},{"w":7954.2,"v":-0.20},{"w":7956.9,"v":-0.13},{"w":7960.8,"v":-0.44},{"w":7965.3,"v":-0.20},{"w":7968.6,"v":-0.09},{"w":7971.9,"v":0.39},{"w":7977.1,"v":-0.33},{"w":7980.3,"v":-0.07},{"w":7983.6,"v":0.27},{"w":7988.2,"v":-0.52},{"w":7991.4,"v":0.06},{"w":7996.0,"v":-0.18},{"w":8000.0,"v":0.07},{"w":8004.5,"v":-0.13},{"w":8009.1,"v":-0.36},{"w":8013.0,"v":0.08},{"w":8017.5,"v":-0.13},{"w":8022.1,"v":-0.54},{"w":8026.0,"v":-0.11},{"w":8030.6,"v":-0.19},{"w":8035.2,"v":-0.02},{"w":8039.1,"v":0.05},{"w":8043.6,"v":0.05},{"w":8048.2,"v":0.19},{"w":8052.1,"v":0.30},{"w":8055.4,"v":0.19},{"w":8058.7,"v":0.49},{"w":8061.3,"v":0.11},{"w":8066.5,"v":-0.11},{"w":8069.8,"v":0.02},{"w":8074.3,"v":0.09},{"w":8078.2,"v":0.10},{"w":8082.8,"v":0.08},{"w":8087.4,"v":-0.03},{"w":8091.3,"v":-0.24},{"w":8095.9,"v":0.30},{"w":8099.1,"v":0.13},{"w":8102.4,"v":-0.14},{"w":8107.0,"v":-0.03},{"w":8110.9,"v":-0.15},{"w":8115.4,"v":-0.05},{"w":8118.7,"v":0.24},{"w":8122.0,"v":0.11},{"w":8126.5,"v":0.28},{"w":8130.4,"v":0.21},{"w":8133.1,"v":0.24},{"w":8138.3,"v":0.26},{"w":8144.8,"v":0.16},{"w":8150.0,"v":-0.11},{"w":8152.6,"v":0.02},{"w":8156.6,"v":-0.29},{"w":8161.1,"v":-0.06},{"w":8164.4,"v":0.18},{"w":8169.6,"v":0.00},{"w":8174.2,"v":-0.03},{"w":8178.7,"v":0.00},{"w":8182.7,"v":-0.03},{"w":8187.2,"v":-0.10},{"w":8191.8,"v":0.00},{"w":8195.7,"v":-0.21},{"w":8200.3,"v":0.09},{"w":8203.5,"v":-0.20},{"w":8206.8,"v":0.21},{"w":8210.1,"v":-0.21},{"w":8215.3,"v":0.00},{"w":8217.9,"v":0.13},{"w":8221.8,"v":0.15},{"w":8226.4,"v":-0.20},{"w":8229.6,"v":-0.03},{"w":8234.9,"v":-0.17},{"w":8239.4,"v":0.04},{"w":8242.7,"v":-0.03},{"w":8249.2,"v":-0.03},{"w":8255.7,"v":-0.03},{"w":8259.0,"v":0.04},{"w":8262.3,"v":0.05},{"w":8267.5,"v":0.06},{"w":8272.1,"v":0.19},{"w":8275.3,"v":-0.32},{"w":8278.6,"v":0.22},{"w":8281.9,"v":-0.25},{"w":8285.1,"v":-0.61},{"w":8288.4,"v":0.08},{"w":8291.6,"v":0.00},{"w":8294.9,"v":0.19},{"w":8298.2,"v":0.28},{"w":8301.4,"v":-0.20},{"w":8304.7,"v":0.06},{"w":8309.3,"v":0.08},{"w":8313.2,"v":-0.17},{"w":8316.4,"v":-0.28},{"w":8319.7,"v":-0.07},{"w":8324.3,"v":-0.20},{"w":8328.8,"v":-0.02},{"w":8334.1,"v":-0.03},{"w":8337.3,"v":0.39},{"w":8340.6,"v":-0.14},{"w":8343.8,"v":0.35},{"w":8347.1,"v":-0.25},{"w":8352.3,"v":0.04},{"w":8356.9,"v":0.02},{"w":8360.2,"v":0.04},{"w":8363.4,"v":-0.37},{"w":8366.7,"v":0.00},{"w":8371.9,"v":-0.29},{"w":8376.5,"v":-0.43},{"w":8379.8,"v":-0.05},{"w":8383.0,"v":-0.02},{"w":8386.3,"v":-0.03},{"w":8391.5,"v":-0.18},{"w":8396.1,"v":0.36},{"w":8400.6,"v":-0.15},{"w":8404.5,"v":0.21},{"w":8409.1,"v":0.36},{"w":8412.4,"v":-0.03},{"w":8415.6,"v":-0.18},{"w":8420.2,"v":0.31},{"w":8424.1,"v":0.05},{"w":8426.7,"v":-0.55},{"w":8430.6,"v":0.04},{"w":8435.2,"v":0.41},{"w":8438.5,"v":-0.11},{"w":8441.7,"v":0.02},{"w":8445.0,"v":0.00},{"w":8450.2,"v":-0.06},{"w":8454.8,"v":0.00},{"w":8458.1,"v":-0.69},{"w":8461.3,"v":0.04},{"w":8464.6,"v":0.20},{"w":8467.8,"v":0.13},{"w":8471.1,"v":0.02},{"w":8474.4,"v":0.20},{"w":8477.6,"v":0.17},{"w":8480.9,"v":0.01},{"w":8484.2,"v":-0.03},{"w":8487.4,"v":-0.06},{"w":8490.7,"v":-0.17},{"w":8495.9,"v":-0.03},{"w":8500.5,"v":-0.32},{"w":8503.7,"v":-0.11},{"w":8507.0,"v":-0.03},{"w":8510.3,"v":-0.17},{"w":8515.5,"v":0.05},{"w":8520.0,"v":0.02},{"w":8523.3,"v":0.09},{"w":8526.6,"v":0.13},{"w":8533.1,"v":0.31},{"w":8537.7,"v":0.19},{"w":8542.9,"v":-0.15},{"w":8548.1,"v":0.00},{"w":8552.7,"v":-0.03},{"w":8557.3,"v":-0.02},{"w":8562.5,"v":-0.15},{"w":8569.0,"v":0.01},
      {"w":8572.2,"v":0.00},{"w":8575.5,"v":-0.02},{"w":8578.7,"v":-0.10},{"w":8582.0,"v":-0.11},{"w":8587.2,"v":-0.10},{"w":8591.8,"v":0.15},{"w":8596.4,"v":0.11},{"w":8601.6,"v":-0.32},{"w":8606.8,"v":0.02},{"w":8611.4,"v":0.42},{"w":8614.6,"v":0.13},{"w":8617.9,"v":0.23},{"w":8621.2,"v":0.15},{"w":8624.4,"v":-0.20},{"w":8627.7,"v":0.02},{"w":8632.9,"v":0.30},{"w":8637.5,"v":-0.14},{"w":8640.7,"v":-0.11},{"w":8644.0,"v":-0.36},{"w":8648.6,"v":-0.20},{"w":8652.5,"v":0.01},{"w":8655.8,"v":-0.65},{"w":8660.3,"v":-0.13},{"w":8665.5,"v":0.43},{"w":8670.1,"v":-0.24},{"w":8674.7,"v":-0.33},{"w":8678.6,"v":-0.06},{"w":8683.2,"v":0.28},{"w":8686.4,"v":-0.13},{"w":8689.7,"v":-0.03},{"w":8692.9,"v":0.15},{"w":8696.2,"v":0.15},{"w":8699.5,"v":-0.03},{"w":8702.7,"v":-0.11},{"w":8706.0,"v":-0.19},{"w":8711.2,"v":0.14},{"w":8715.8,"v":0.13},{"w":8719.1,"v":0.13},{"w":8722.3,"v":0.11},{"w":8726.9,"v":0.09},{"w":8732.1,"v":0.04},{"w":8737.3,"v":-0.03},{"w":8741.9,"v":-0.04},{"w":8745.2,"v":0.00},{"w":8748.4,"v":0.02},{"w":8751.7,"v":0.57},{"w":8756.9,"v":0.53},{"w":8761.5,"v":-0.43},{"w":8764.7,"v":-0.09},{"w":8768.0,"v":0.28},{"w":8771.3,"v":-0.39},{"w":8774.5,"v":-0.18},{"w":8777.8,"v":-0.09},{"w":8781.0,"v":0.02},{"w":8784.3,"v":0.47},{"w":8787.6,"v":0.00},{"w":8790.8,"v":-0.26},{"w":8794.1,"v":-0.06},{"w":8797.4,"v":-0.06},{"w":8800.6,"v":-0.21},{"w":8805.2,"v":-0.31},{"w":8810.4,"v":-0.25},{"w":8813.7,"v":0.17},{"w":8816.9,"v":0.34},{"w":8820.2,"v":0.34},{"w":8823.5,"v":-0.30},{"w":8825.4,"v":0.04},{"w":8828.7,"v":0.58},{"w":8831.3,"v":-0.25},{"w":8833.3,"v":-0.53},{"w":8836.5,"v":-0.09},{"w":8839.8,"v":0.02},{"w":8843.0,"v":-0.15},{"w":8846.3,"v":0.20},{"w":8849.6,"v":-0.06},{"w":8852.8,"v":-0.05},{"w":8856.1,"v":-0.21},{"w":8859.4,"v":0.00},{"w":8862.6,"v":-0.11},{"w":8865.9,"v":-0.18},{"w":8869.1,"v":0.13},{"w":8872.4,"v":0.24},{"w":8875.7,"v":0.21},{"w":8878.9,"v":-0.39},{"w":8882.2,"v":-0.04},{"w":8885.5,"v":0.00},{"w":8888.7,"v":-0.20},{"w":8892.0,"v":0.07},{"w":8895.3,"v":0.02},{"w":8898.5,"v":-0.58},{"w":8901.8,"v":-0.14},{"w":8905.0,"v":-0.09},{"w":8908.3,"v":0.24},{"w":8911.6,"v":0.32},{"w":8914.8,"v":-0.30},{"w":8918.1,"v":0.08},{"w":8921.4,"v":-0.07},{"w":8924.6,"v":0.02},{"w":8927.9,"v":-0.20},{"w":8931.1,"v":0.04},{"w":8934.4,"v":0.16},{"w":8937.7,"v":0.11},{"w":8940.9,"v":-0.07},{"w":8944.2,"v":-0.15},{"w":8947.5,"v":0.36},{"w":8950.7,"v":0.57},{"w":8954.0,"v":-0.63},{"w":8957.2,"v":0.04},{"w":8960.5,"v":0.02},{"w":8963.8,"v":-0.02},{"w":8967.0,"v":-0.06},{"w":8970.3,"v":0.04},{"w":8973.6,"v":-0.21},{"w":8976.8,"v":0.14},{"w":8980.1,"v":0.01},{"w":8983.3,"v":-0.14},{"w":8986.6,"v":0.04},{"w":8989.9,"v":-0.15},{"w":8993.1,"v":-0.40},{"w":8996.4,"v":0.01},{"w":8999.7,"v":0.08},{"w":9002.9,"v":0.11},{"w":9006.2,"v":-0.15},{"w":9009.5,"v":0.02},{"w":9012.7,"v":0.09},{"w":9016.0,"v":-0.07},{"w":9019.2,"v":-0.02},{"w":9022.5,"v":0.18},{"w":9025.8,"v":-0.14},{"w":9029.0,"v":-0.21},{"w":9032.3,"v":-0.36},{"w":9037.5,"v":-0.39},{"w":9040.1,"v":0.05},{"w":9044.0,"v":-0.69},{"w":9046.7,"v":-0.18},{"w":9050.6,"v":0.01},{"w":9053.2,"v":0.00},{"w":9058.4,"v":-0.11},{"w":9061.7,"v":-0.17},{"w":9064.9,"v":-0.11},{"w":9068.2,"v":0.02},{"w":9071.5,"v":0.27},{"w":9074.7,"v":0.16},{"w":9078.0,"v":0.11},{"w":9081.3,"v":0.28},{"w":9084.5,"v":0.21},{"w":9086.5,"v":0.56},{"w":9089.7,"v":0.19},{"w":9092.3,"v":0.24},{"w":9095.6,"v":-0.07},{"w":9098.9,"v":-0.10},{"w":9102.8,"v":-0.03},{"w":9107.4,"v":0.08},{"w":9111.9,"v":0.02},{"w":9117.1,"v":0.13},{"w":9120.4,"v":0.11},{"w":9123.7,"v":0.00},{"w":9126.9,"v":-0.25},{"w":9130.2,"v":0.16},{"w":9133.4,"v":0.00},{"w":9136.7,"v":0.15},{"w":9140.0,"v":0.00},{"w":9143.2,"v":-0.11},{"w":9146.5,"v":0.02},{"w":9149.8,"v":-0.10},{"w":9153.0,"v":-0.07},{"w":9156.3,"v":-0.09},{"w":9159.5,"v":0.01},{"w":9162.8,"v":0.09},{"w":9166.1,"v":-0.32},{"w":9169.3,"v":-0.11},{"w":9172.6,"v":0.01},{"w":9175.9,"v":-0.09},{"w":9179.1,"v":0.00},{"w":9182.4,"v":0.02},{"w":9185.6,"v":0.09},{"w":9188.9,"v":0.19},{"w":9192.2,"v":0.16},{"w":9195.4,"v":0.00},{"w":9198.7,"v":-0.24},{"w":9202.0,"v":-0.21},{"w":9205.2,"v":-0.02},{"w":9208.5,"v":-0.29},{"w":9211.7,"v":-0.25},{"w":9215.0,"v":-0.28},{"w":9218.3,"v":-0.09},{"w":9221.5,"v":-0.18},{"w":9224.8,"v":0.08},{"w":9228.1,"v":0.09},{"w":9231.3,"v":0.02},{"w":9234.6,"v":0.08},{"w":9237.9,"v":0.11},{"w":9241.1,"v":0.12},{"w":9244.4,"v":-0.07},{"w":9247.6,"v":0.02},{"w":9250.9,"v":0.12},{"w":9254.2,"v":0.15},{"w":9257.4,"v":-0.26},{"w":9260.7,"v":-0.09},{"w":9264.0,"v":-0.06},{"w":9267.2,"v":-0.20},{"w":9270.5,"v":-0.03},{"w":9273.7,"v":0.02},{"w":9277.0,"v":0.34},{"w":9280.3,"v":0.11},{"w":9283.5,"v":-0.09},{"w":9286.8,"v":-0.21},{"w":9290.1,"v":0.04},{"w":9293.3,"v":-0.17},{"w":9296.6,"v":0.04},{"w":9300.0,"v":0.02}
    ]
  },
  "layer": [
    {
      "data": {"name": "err"},
      "mark": {"type": "line", "color": "#008000", "strokeWidth": 1.7, "clip": true},
      "encoding": {
        "x": {
          "field": "w", "type": "quantitative",
          "scale": {"domain": [4750, 9300], "nice": false, "zero": false},
          "axis": {
            "values": [5000, 6000, 7000, 8000, 9000], "format": "d",
            "labelFontSize": 28, "labelPadding": 15,
            "title": "Wavelength", "titleFontSize": 33, "titlePadding": 4
          }
        },
        "y": {
          "field": "v", "type": "quantitative",
          "scale": {"domain": [-1.10, 0.955], "nice": false, "zero": false},
          "axis": {
            "values": [-1, -0.75, -0.5, -0.25, 0, 0.25, 0.5, 0.75], "format": ".2f",
            "labelFontSize": 34, "labelPadding": 19,
            "title": "10⁻¹⁸ erg s⁻¹ cm⁻² Å⁻¹", "titleFontSize": 46, "titlePadding": 25
          }
        }
      }
    },
    {
      "data": {"values": [{"zero": 0}]},
      "mark": {"type": "rule", "color": "#0000ff", "strokeWidth": 5},
      "encoding": {
        "y": {"field": "zero", "type": "quantitative", "title": "10⁻¹⁸ erg s⁻¹ cm⁻² Å⁻¹"}
      }
    },
    {
      "data": {"name": "flux"},
      "mark": {"type": "line", "color": "black", "strokeWidth": 5, "strokeJoin": "round", "clip": true},
      "encoding": {
        "x": {"field": "w", "type": "quantitative", "title": "Wavelength"},
        "y": {"field": "v", "type": "quantitative", "title": "10⁻¹⁸ erg s⁻¹ cm⁻² Å⁻¹"}
      }
    }
  ]
}
